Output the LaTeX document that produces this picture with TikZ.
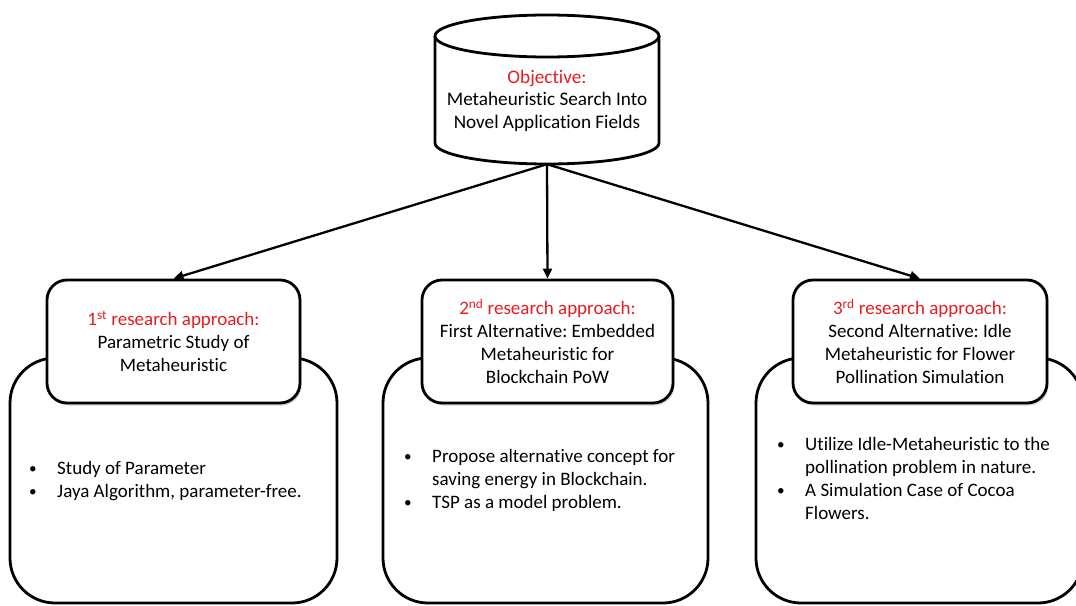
\documentclass[tikz,border=0pt]{standalone}
\usepackage{fontspec}
\setmainfont[Ligatures=NoCommon]{Carlito}
\frenchspacing
\usetikzlibrary{arrows.meta,shadows}
\definecolor{headred}{RGB}{230,28,32}
\newcommand{\hd}[2]{\textcolor{headred}{#1\textsuperscript{#2} research approach:}}
\newcommand{\bul}{\raisebox{0.1ex}{\scalebox{0.8}{\textbullet}}}
\tikzset{
  txt/.style={font=\fontsize{19}{23}\selectfont},
  objfont/.style={font=\fontsize{19.2}{22.5}\selectfont},
  titlebox/.style={draw, line width=2.8pt, rounded corners=20pt, fill=white,
    align=center, txt, inner sep=0pt,
    drop shadow={opacity=0.35, shadow xshift=1.5pt, shadow yshift=-2.5pt}},
  bigbox/.style={draw, line width=2.8pt, rounded corners=45pt, fill=white, inner sep=0pt},
  bullets/.style={anchor=west, align=left, txt, inner sep=0pt},
  link/.style={line width=2.3pt, -{Triangle[length=10pt,width=9pt]}},
}
\begin{document}
\begin{tikzpicture}[x=1pt,y=-1pt]
\useasboundingbox (0,0) rectangle (1076,605);
\clip (0,0) rectangle (1076,605);

% objective cylinder
\node[minimum width=224pt, minimum height=149pt, inner sep=0pt] (obj) at (547,89.5) {};
\draw[line width=2.8pt, fill=white]
  (435,36) -- (435,143) .. controls (435,154.6) and (485.1,164) .. (547,164)
  .. controls (608.9,164) and (659,154.6) .. (659,143) -- (659,36);
\draw[line width=2.8pt, fill=white] (547,36) ellipse [x radius=112pt, y radius=21pt];
\node[objfont, align=center] (objtxt) at (547,100.5)
  {\textcolor{headred}{Objective:}\\Metaheuristic Search Into\\Novel Application Fields};

% detail panels
\node[bigbox, minimum width=327pt, minimum height=245pt] (b1) at (173.5,480.5) {};
\node[bigbox, minimum width=325pt, minimum height=245pt] (b2) at (545.5,480.5) {};
\node[bigbox, minimum width=327pt, minimum height=245pt] (b3) at (919.5,480.5) {};

% approach headers
\node[titlebox, minimum width=253pt, minimum height=123pt] (t1) at (173.5,341.5)
  {\hd{1}{st}\\Parametric Study of\\Metaheuristic};
\node[titlebox, minimum width=251pt, minimum height=123pt] (t2) at (547.5,341.5)
  {\hd{2}{nd}\\First Alternative: Embedded\\Metaheuristic for\\Blockchain PoW};
\node[titlebox, minimum width=254pt, minimum height=123pt] (t3) at (920,341.5)
  {\hd{3}{rd}\\Second Alternative: Idle\\Metaheuristic for Flower\\Pollination Simulation};

% panel contents
\node[bullets] (l1) at (29,481.5)
  {\begin{tabular}{@{}p{28pt}@{}l@{}}
   \bul & Study of Parameter\\
   \bul & Jaya Algorithm, parameter-free.
   \end{tabular}};
\node[bullets] (l2) at (404,480.5)
  {\begin{tabular}{@{}p{28pt}@{}l@{}}
   \bul & Propose alternative concept for\\
        & saving energy in Blockchain.\\
   \bul & TSP as a model problem.
   \end{tabular}};
\node[bullets] (l3) at (777,480)
  {\begin{tabular}{@{}p{28pt}@{}l@{}}
   \bul & Utilize Idle-Metaheuristic to the\\
        & pollination problem in nature.\\
   \bul & A Simulation Case of Cocoa\\
        & Flowers.
   \end{tabular}};

% connectors
\draw[link] (obj.south) -- (t1.north);
\draw[link] (obj.south) -- (t2.north);
\draw[link] (obj.south) -- (t3.north);
\end{tikzpicture}
\end{document}
